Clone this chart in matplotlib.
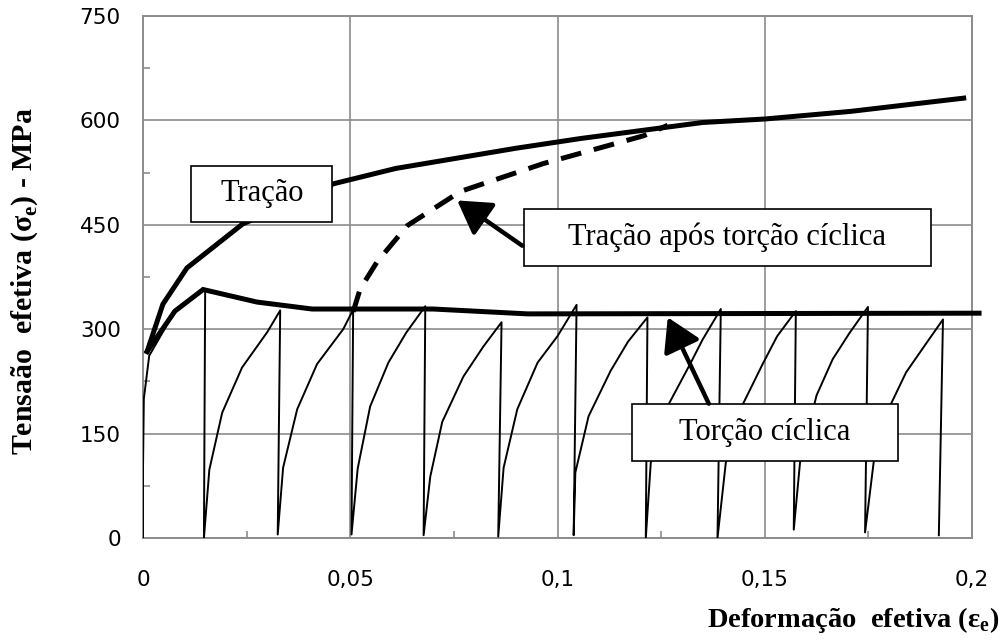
import matplotlib
matplotlib.use("Agg")
import matplotlib.pyplot as plt
from matplotlib.patches import Rectangle, FancyArrowPatch
from matplotlib.ticker import MultipleLocator, FuncFormatter

# --- Data -------------------------------------------------------------
# Tração monotônica
tracao_x = [0.001, 0.0048, 0.0106, 0.024, 0.046, 0.061, 0.090, 0.1056,
            0.135, 0.150, 0.1708, 0.198]
tracao_y = [268, 336, 388, 451, 509, 531, 560, 574, 597, 602, 613, 632]

# Tração após torção cíclica (tracejada)
tracao_apos_x = [0.0507, 0.0524, 0.0565, 0.0638, 0.0766, 0.0966, 0.1208, 0.1266]
tracao_apos_y = [325, 358, 397, 449, 498, 538, 578, 593]

# Envoltória da torção cíclica
envoltoria_x = [0.001, 0.0077, 0.0145, 0.0275, 0.0408, 0.0548, 0.070, 0.0928, 0.2017]
envoltoria_y = [268, 326, 357, 339, 329, 329, 329, 322, 323]

# Ciclos de torção (carregamento + descarregamento)
ciclos_x = [0.0, 0.0, 0.0002, 0.0015, 0.0077, 0.0150,
            0.0147, 0.0160, 0.0191, 0.0239, 0.0300, 0.0331,
            0.0325, 0.0338, 0.0372, 0.0420, 0.0483, 0.0507,
            0.0503, 0.0518, 0.0548, 0.0592, 0.0635, 0.0681,
            0.0677, 0.0693, 0.0722, 0.0773, 0.0821, 0.0865,
            0.0857, 0.0870, 0.0903, 0.0952, 0.1000, 0.1046,
            0.1039, 0.1043, 0.1075, 0.1128, 0.1170, 0.1217,
            0.1213, 0.1225, 0.1268, 0.1320, 0.1350, 0.1394,
            0.1386, 0.1406, 0.1447, 0.1495, 0.1530, 0.1575,
            0.1570, 0.1585, 0.1625, 0.1664, 0.1705, 0.1749,
            0.1742, 0.1763, 0.1804, 0.1841, 0.1890, 0.1930,
            0.1920]
ciclos_y = [0, 100, 200, 262, 326, 358,
            0, 98, 180, 245, 296, 327,
            5, 101, 185, 250, 300, 328,
            5, 100, 189, 252, 295, 333,
            4, 88, 167, 232, 275, 310,
            2, 101, 185, 252, 290, 335,
            4, 94, 175, 240, 282, 317,
            0, 108, 192, 250, 285, 329,
            0, 108, 192, 250, 290, 326,
            12, 108, 205, 257, 295, 332,
            8, 110, 192, 238, 280, 314,
            4]

x_ticks = [0, 0.05, 0.1, 0.15, 0.2]
y_ticks = [0, 150, 300, 450, 600, 750]

# --- Figure -----------------------------------------------------------
W, H = 1003, 643
fig = plt.figure(figsize=(W / 100, H / 100), dpi=100)
ax = fig.add_axes([143 / W, 1 - 538 / H, (972 - 143) / W, (538 - 16) / H])

grid_c = "#8c8c8c"
ax.set_xlim(0, 0.2)
ax.set_ylim(0, 750)
ax.set_xticks(x_ticks)
ax.set_yticks(y_ticks)
ax.xaxis.set_minor_locator(MultipleLocator(0.025))
ax.yaxis.set_minor_locator(MultipleLocator(75))
ax.xaxis.set_major_formatter(FuncFormatter(lambda v, p: f"{v:g}".replace(".", ",")))
ax.grid(True, which="major", color=grid_c, lw=1.2)
ax.set_axisbelow(True)
for s in ax.spines.values():
    s.set_color(grid_c)
    s.set_linewidth(1.4)
ax.tick_params(which="major", length=0, labelsize=15.5, colors="black")
ax.tick_params(axis="y", which="major", pad=16)
ax.tick_params(axis="x", which="major", pad=23)
ax.tick_params(which="minor", direction="in", length=5, width=1.2, color=grid_c)
for lbl in ax.get_xticklabels() + ax.get_yticklabels():
    lbl.set_fontfamily("DejaVu Sans")

# Curves
ax.plot(ciclos_x, ciclos_y, color="black", lw=1.4, zorder=3)
ax.plot(envoltoria_x, envoltoria_y, color="black", lw=3.6, zorder=4,
        solid_joinstyle="miter", clip_on=False)
ax.plot(tracao_x, tracao_y, color="black", lw=3.6, zorder=4)
ax.plot(tracao_apos_x, tracao_apos_y, color="black", lw=3.6, zorder=4,
        dashes=(4.2, 2.6))

serif = "Liberation Serif"


def caixa(x0, x1, y0, y1, texto):
    ax.add_patch(Rectangle((x0, y0), x1 - x0, y1 - y0, facecolor="white",
                           edgecolor="black", lw=1.2, zorder=6))
    ax.text((x0 + x1) / 2, (y0 + y1) / 2, texto, ha="center", va="center",
            fontfamily=serif, fontsize=22, zorder=7)


caixa(0.0116, 0.0457, 454, 535, "Tração")
caixa(0.0918, 0.1901, 391, 473, "Tração após torção cíclica")
caixa(0.1179, 0.1821, 110, 192, "Torção cíclica")


def seta(xy_tail, xy_tip):
    ax.add_patch(FancyArrowPatch(xy_tail, xy_tip,
                                 arrowstyle="-|>,head_length=1.0,head_width=0.6",
                                 mutation_scale=20, lw=3.2, color="black",
                                 shrinkA=0, shrinkB=0, zorder=8))


seta((0.0915, 420), (0.0758, 485))
seta((0.1365, 193), (0.1266, 317))

# Axis titles
fig.text(25 / W, 1 - 281 / H, "Tensaão  efetiva (σ$_\\mathregular{e}$) - MPa",
         rotation=90, ha="center", va="center", fontfamily=serif,
         fontweight="bold", fontsize=21.5)
fig.text(1000 / W, 1 - 620 / H, "Deformação  efetiva (ε$_\\mathregular{e}$)",
         ha="right", va="center", fontfamily=serif, fontweight="bold",
         fontsize=20.5)

fig.savefig("out.png", dpi=100, facecolor="white")
